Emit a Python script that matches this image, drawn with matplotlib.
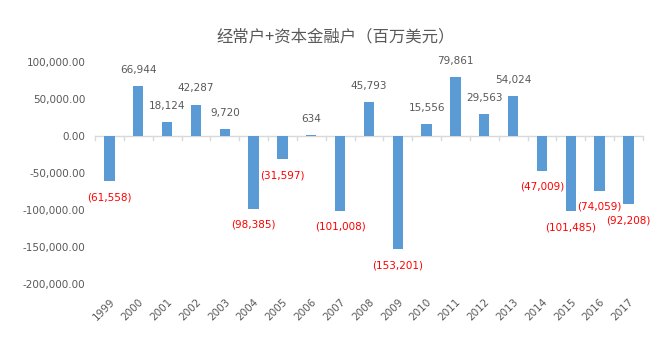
import matplotlib
matplotlib.use("Agg")
import matplotlib.pyplot as plt
from matplotlib.ticker import FuncFormatter

years = [str(y) for y in range(1999, 2018)]
values = [-61558, 66944, 18124, 42287, 9720, -98385, -31597, 634, -101008,
          45793, -153201, 15556, 79861, 29563, 54024, -47009, -101485,
          -74059, -92208]
title = "经常户+资本金融户（百万美元）"

cjk_font = ['Noto Sans CJK SC', 'DejaVu Sans']
grey = '#595959'
fs = 7.5

fig = plt.figure(figsize=(6.6, 3.4), dpi=100)
ax = fig.add_axes([0.144, 0.165, 0.830, 0.653])
x = list(range(len(years)))
ax.bar(x, values, width=0.36, color='#5B9BD5', zorder=2)
ax.set_xlim(-0.5, len(years) - 0.5)
ax.set_ylim(-200000, 100000)
ax.set_yticks([100000, 50000, 0, -50000, -100000, -150000, -200000])
ax.yaxis.set_major_formatter(FuncFormatter(lambda v, p: f"{v:,.2f}"))
for s in ['top', 'right', 'left', 'bottom']:
    ax.spines[s].set_visible(False)
ax.axhline(0, color='#D9D9D9', lw=1, zorder=1)
ax.tick_params(axis='y', length=0, labelsize=fs, labelcolor=grey, pad=7)
ax.tick_params(axis='x', length=0, labelsize=fs, labelcolor=grey, pad=9)
ax.set_xticks(x)
ax.set_xticklabels(years, rotation=45, ha='right', rotation_mode='anchor')
for b in range(len(years) + 1):
    ax.plot([b - 0.5, b - 0.5], [0, -6000], color='#D9D9D9', lw=1, zorder=1,
            clip_on=False)

for xi, v in zip(x, values):
    if v >= 0:
        ax.annotate(f"{v:,}", (xi, v), xytext=(0, 8), textcoords='offset points',
                    ha='center', va='bottom', fontsize=fs, color=grey)
    else:
        ax.annotate(f"({-v:,})", (xi, v), xytext=(0, -8), textcoords='offset points',
                    ha='center', va='top', fontsize=fs, color='#FF0000')

fig.text(0.508, 0.892, title, ha='center', va='center', fontsize=11.8,
         color=grey, family=cjk_font)
fig.savefig('out.png', dpi=100)
